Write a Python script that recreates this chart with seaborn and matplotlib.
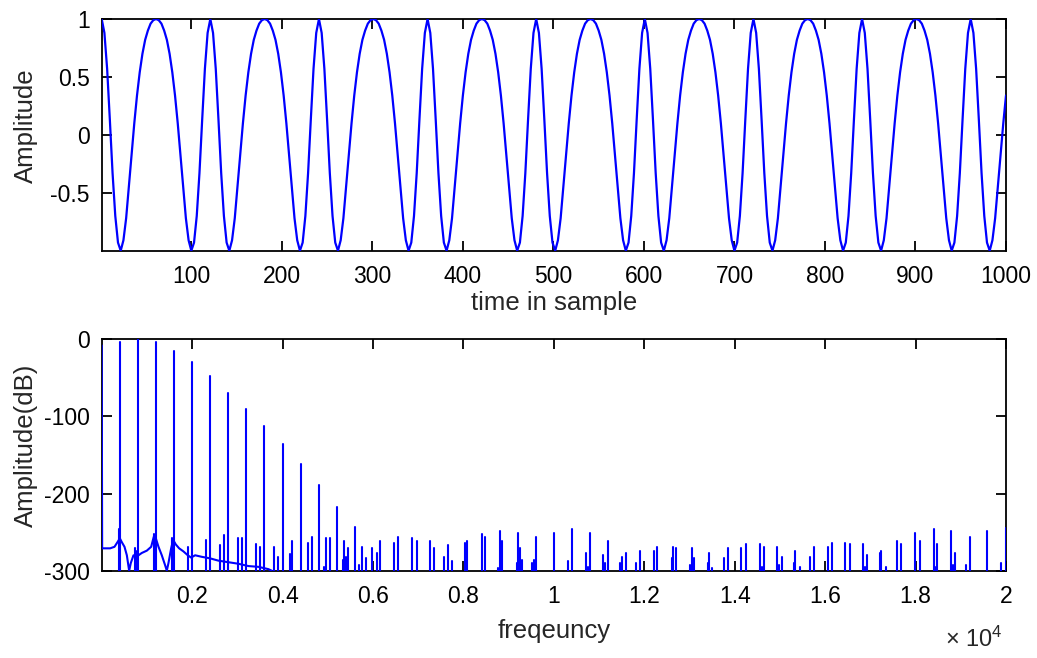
import numpy as np
import pandas as pd
import matplotlib
matplotlib.use("Agg")
import matplotlib.pyplot as plt
import seaborn as sns

# ---------------- data ----------------
# Top panel: one 120-sample period of the waveform, read every 3 samples
n_samples = 1000
period_step = 3
wave_period = [1.00, 0.88, 0.57, 0.13, -0.33, -0.70, -0.93, -1.00, -0.91, -0.72,
               -0.45, -0.17, 0.10, 0.34, 0.54, 0.70, 0.82, 0.90, 0.96, 0.99,
               1.00, 0.99, 0.96, 0.90, 0.82, 0.70, 0.54, 0.34, 0.10, -0.17,
               -0.45, -0.72, -0.91, -1.00, -0.93, -0.70, -0.33, 0.13, 0.57, 0.88]
time_ticks = [100, 200, 300, 400, 500, 600, 700, 800, 900, 1000]
amp_ticks = [-0.5, 0, 0.5, 1]
amp_labels = ["-0.5", "0", "0.5", "1"]

# Bottom panel: spectrum floor (incl. DC bin) in Hz / dB
floor_f = [0, 10, 187, 283, 349, 401, 445, 504, 556, 607, 644, 703, 755, 814, 887,
           998, 1094, 1152, 1197, 1256, 1329, 1403, 1440, 1477, 1536, 1580, 1639,
           1713, 1808, 1904, 1978, 2066, 2213, 2398, 2582, 2803, 3024, 3245, 3466,
           3687, 3761]
floor_db = [-8, -271, -271, -269, -263, -258, -263, -269, -280, -300, -290, -280,
            -282, -280, -277, -274, -269, -256, -258, -269, -280, -293, -300, -290,
            -271, -260, -266, -271, -275, -280, -283, -280, -282, -284, -287, -289,
            -291, -294, -295, -298, -300]

# harmonic lines
harm_f = [400, 800, 1200, 1600, 2000, 2400, 2800, 3200, 3600, 4000, 4400, 4800,
          5200, 5600]
harm_db = [-4, 0, -4, -15, -30, -48, -69, -90, -113, -136, -162, -189, -217, -243]

# small spikes near the numerical noise floor
noise_f = [386, 740, 777, 1167, 1565, 1919, 2302, 2619, 2707, 3009, 3112, 3414,
           3510, 3812, 3908, 4166, 4218, 4557, 4660, 4918, 4954, 5050, 5330, 5360,
           5404, 5455, 5699, 5750, 5846, 5986, 6082, 6163, 6472, 6561, 6870, 6966,
           7261, 7356, 7577, 7658, 7754, 8034, 8071, 8417, 8476, 8771, 8808, 8860,
           9176, 9198, 9250, 9287, 9523, 9560, 9604, 10009, 10318, 10407, 10709,
           10760, 10797, 11092, 11129, 11188, 11460, 11512, 11593, 11814, 11902,
           12212, 12286, 12618, 12640, 12692, 13008, 13045, 13097, 13399, 13436,
           13487, 13760, 13856, 14150, 14246, 14556, 14593, 14644, 14946, 14983,
           15035, 15307, 15344, 15440, 15661, 15757, 16066, 16155, 16449, 16545,
           16840, 16876, 16935, 17208, 17245, 17341, 17599, 17687, 17996, 18092,
           18402, 18438, 18483, 18792, 18829, 18881, 19124, 19197, 19588, 19898,
           19993]
noise_db = [-246, -271, -275, -252, -258, -269, -260, -267, -254, -258, -258, -265,
            -269, -269, -282, -278, -261, -264, -256, -295, -258, -258, -286, -261,
            -282, -271, -293, -269, -284, -271, -277, -261, -264, -256, -258, -261,
            -261, -271, -282, -267, -287, -264, -261, -253, -256, -297, -248, -261,
            -290, -251, -271, -286, -290, -286, -256, -251, -287, -246, -277,
            -295, -251, -280, -290, -261, -290, -282, -277, -290, -274,
            -274, -269, -284, -269, -271, -292, -271, -284, -290, -277,
            -296, -284, -271, -271, -266, -266, -295, -269, -269, -292,
            -282, -290, -274, -295, -282, -269, -269, -264, -264, -266,
            -266, -295, -279, -277, -274, -295, -261, -266, -251, -261,
            -246, -295, -266, -248, -292, -277, -293, -256, -248, -290,
            -245]
floor_level = -300
freq_ticks = [2000, 4000, 6000, 8000, 10000, 12000, 14000, 16000, 18000, 20000]
freq_labels = ["0.2", "0.4", "0.6", "0.8", "1", "1.2", "1.4", "1.6", "1.8", "2"]
db_ticks = [-300, -200, -100, 0]

# ---------------- style ----------------
sns.set_theme(style="white")
plt.rcParams.update({
    "font.family": ["Liberation Sans", "DejaVu Sans"],
    "axes.unicode_minus": False,
    "mathtext.fontset": "custom",
    "mathtext.rm": "Liberation Sans",
    "mathtext.it": "Liberation Sans",
    "mathtext.bf": "Liberation Sans",
    "axes.edgecolor": "black",
    "axes.linewidth": 1.3,
})
BLUE = "#0000ff"
W, H = 1037, 658
fig = plt.figure(figsize=(W / 100, H / 100), dpi=100)
fig.patch.set_facecolor("white")


def px_axes(left, top, right, bottom):
    return fig.add_axes([left / W, 1 - bottom / H, (right - left) / W, (bottom - top) / H])


ax1 = px_axes(101.7, 19, 1006, 250.7)
ax2 = px_axes(101.7, 339.3, 1006, 570.7)

# ---------------- top panel ----------------
n_pts = (n_samples - 1) // period_step + 1
reps = int(np.ceil(n_pts / len(wave_period)))
wave = np.tile(wave_period, reps)[:n_pts]
t = np.arange(n_pts) * period_step + 1
sns.lineplot(x=t, y=wave, ax=ax1, color=BLUE, lw=1.6, estimator=None, sort=False,
             zorder=3)
ax1.set_xlim(1, 1000)
ax1.set_ylim(-1.0, 1.0)
ax1.set_xticks(time_ticks)
ax1.set_xticklabels([str(v) for v in time_ticks])
ax1.set_yticks(amp_ticks)
ax1.set_yticklabels(amp_labels)
ax1.set_xlabel("time in sample", fontsize=18.5)
ax1.set_ylabel("Amplitude", fontsize=18.5)
ax1.xaxis.set_label_coords(0.5, -0.172)
ax1.yaxis.set_label_coords(-0.071, 0.54)

# ---------------- bottom panel ----------------
sns.lineplot(x=floor_f, y=floor_db, ax=ax2, color=BLUE, lw=1.5, estimator=None,
             sort=False, zorder=3)
spike_f = harm_f + noise_f
spike_db = harm_db + noise_db
rows = []
for i, (f, d) in enumerate(zip(spike_f, spike_db)):
    rows.append((i, f, floor_level))
    rows.append((i, f, d))
spikes = pd.DataFrame(rows, columns=["id", "freq", "db"])
sns.lineplot(data=spikes, x="freq", y="db", units="id", estimator=None, ax=ax2,
             color=BLUE, lw=1.5, legend=False, zorder=3)
ax2.set_xlim(0, 20000)
ax2.set_ylim(-300, 0)
ax2.set_xticks(freq_ticks)
ax2.set_xticklabels(freq_labels)
ax2.set_yticks(db_ticks)
ax2.set_yticklabels([str(v) for v in db_ticks])
ax2.set_xlabel("freqeuncy", fontsize=18.5)
ax2.set_ylabel("Amplitude(dB)", fontsize=18.5)
ax2.xaxis.set_label_coords(0.5, -0.208)
ax2.yaxis.set_label_coords(-0.071, 0.54)
fig.text(1003 / W, 1 - 647 / H, r"× 10$^{4}$", ha="right", va="baseline", fontsize=17)

for ax in (ax1, ax2):
    ax.set_facecolor("white")
    ax.grid(False)
    for s in ax.spines.values():
        s.set_visible(True)
        s.set_color("black")
        s.set_linewidth(1.3)
        s.set_zorder(2.5)
    ax.tick_params(axis="both", which="major", direction="in", length=7, width=1.3,
                   top=True, right=True, bottom=True, left=True,
                   labelsize=16.5, pad=8.5, colors="black")
    ax.tick_params(axis="x", pad=10)

fig.savefig("out.png", dpi=100, facecolor="white")
